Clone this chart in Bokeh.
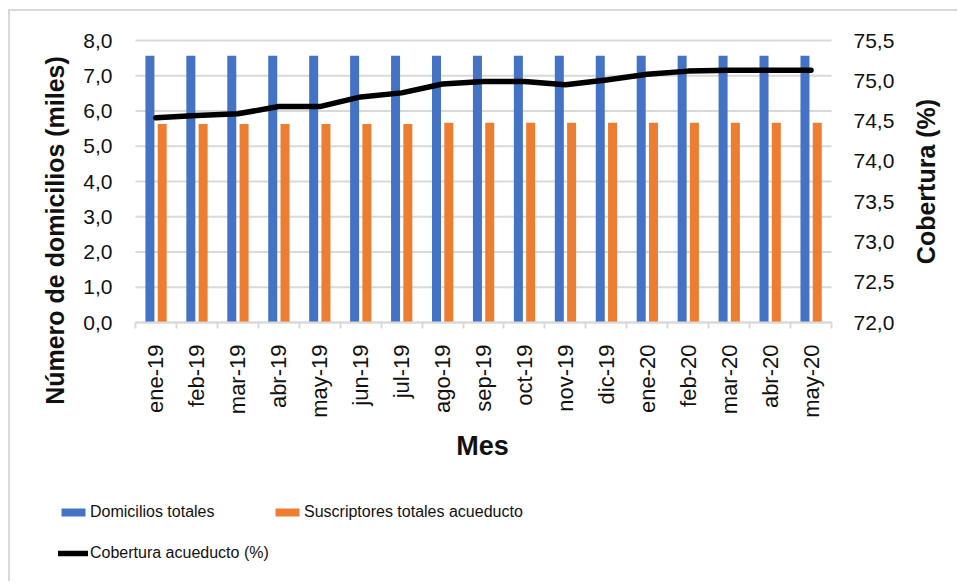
from math import pi
from bokeh.plotting import figure
from bokeh.models import (Range1d, LinearAxis, FixedTicker, CustomJSTickFormatter,
                          ColumnDataSource, Legend, LegendItem, Label)
from bokeh.transform import dodge
from bokeh.embed import file_html
from bokeh.resources import INLINE

# ---------------- data ----------------
months = ["ene-19", "feb-19", "mar-19", "abr-19", "may-19", "jun-19", "jul-19",
          "ago-19", "sep-19", "oct-19", "nov-19", "dic-19", "ene-20", "feb-20",
          "mar-20", "abr-20", "may-20"]
domicilios = [7.57, 7.57, 7.57, 7.57, 7.57, 7.57, 7.57, 7.57, 7.57, 7.57,
              7.57, 7.57, 7.57, 7.57, 7.57, 7.57, 7.57]
suscriptores = [5.63, 5.63, 5.63, 5.63, 5.63, 5.63, 5.63, 5.67, 5.67, 5.67,
                5.67, 5.67, 5.67, 5.67, 5.67, 5.67, 5.67]
cobertura = [74.54, 74.57, 74.59, 74.68, 74.68, 74.80, 74.85, 74.96, 74.99, 74.99,
             74.95, 75.01, 75.08, 75.12, 75.13, 75.13, 75.13]
left_ticks = [0.0, 1.0, 2.0, 3.0, 4.0, 5.0, 6.0, 7.0, 8.0]
right_ticks = [72.0, 72.5, 73.0, 73.5, 74.0, 74.5, 75.0, 75.5]

# ---------------- style / layout ----------------
BLUE = "#4472C4"
ORANGE = "#ED7D31"
GRID = "#d9d9d9"
TXT = "#111111"
FONT = "Liberation Sans"
LFONT = "Liberation Sans"

PAGE_W, PAGE_H = 959, 583
FRAME_L, FRAME_T = 10, 11            # page px where the canvas starts (margin + border)
PLOT_L, PLOT_R, PLOT_T, PLOT_B = 135, 831, 40, 322   # page px of the plotting area
FIG_W, FIG_H = PAGE_W - FRAME_L, PAGE_H - FRAME_T

n = len(months)
ppx = (PLOT_R - PLOT_L) / n
ppy = (PLOT_B - PLOT_T) / (left_ticks[-1] - left_ticks[0])
ppy2 = (PLOT_B - PLOT_T) / (right_ticks[-1] - right_ticks[0])

def px2x(px):
    return (px - PLOT_L) / ppx

def px2y(py):
    return left_ticks[0] + (PLOT_B - py) / ppy

x_center = [i + 0.5 for i in range(n)]
boundaries = list(range(n + 1))

src = ColumnDataSource(dict(x=x_center, month=months, dom=domicilios,
                            sus=suscriptores, cob=cobertura))
grid_src = ColumnDataSource(dict(y=left_ticks, x0=[0] * len(left_ticks),
                                 x1=[n] * len(left_ticks)))

p = figure(width=FIG_W, height=FIG_H, title=None,
           x_range=Range1d(px2x(FRAME_L), px2x(PAGE_W)),
           y_range=Range1d(px2y(PAGE_H), px2y(FRAME_T)),
           output_backend="svg", toolbar_location=None,
           min_border=0, min_border_left=0, min_border_right=0,
           min_border_top=0, min_border_bottom=0,
           styles={"margin-left": "8px", "margin-top": "9px",
                   "border-top": "2px solid #d9d9d9",
                   "border-left": "2px solid #d9d9d9"})
p.outline_line_color = None
p.background_fill_color = "white"
p.border_fill_color = "white"
p.extra_y_ranges = {"cov": Range1d(right_ticks[0] - (PAGE_H - PLOT_B) / ppy2,
                                   right_ticks[-1] + (PLOT_T - FRAME_T) / ppy2)}
p.xgrid.visible = False
p.ygrid.visible = False

# grid lines (only across the plotting area)
p.segment(x0="x0", x1="x1", y0="y", y1="y", source=grid_src,
          line_color=GRID, line_width=2)

# bars
r_dom = p.vbar(x=dodge("x", -0.148, range=p.x_range), top="dom", width=0.22,
               source=src, fill_color=BLUE, line_color=None)
r_sus = p.vbar(x=dodge("x", 0.152, range=p.x_range), top="sus", width=0.22,
               source=src, fill_color=ORANGE, line_color=None)
# line
r_cob = p.line("x", "cob", source=src, y_range_name="cov", line_width=5.5,
               line_color="black", line_join="round", line_cap="round")

# x axis
xa = p.xaxis[0]
xa.fixed_location = left_ticks[0]
xa.bounds = (0, n)
xa.ticker = FixedTicker(ticks=x_center, minor_ticks=boundaries)
xa.formatter = CustomJSTickFormatter(args=dict(labels=months),
                                     code="return labels[Math.floor(tick)];")
xa.axis_line_color = GRID
xa.axis_line_width = 2
xa.major_tick_line_color = None
xa.major_tick_out = 0
xa.major_tick_in = 0
xa.minor_tick_line_color = GRID
xa.minor_tick_line_width = 2
xa.minor_tick_out = 6
xa.minor_tick_in = 0
xa.major_label_orientation = pi / 2
xa.major_label_standoff = 16
xa.major_label_text_font = FONT
xa.major_label_text_font_size = "22px"
xa.major_label_text_color = TXT

# left y axis
ya = p.yaxis[0]
ya.fixed_location = 0
ya.ticker = FixedTicker(ticks=left_ticks)
ya.formatter = CustomJSTickFormatter(code="return tick.toFixed(1).replace('.', ',');")
ya.axis_line_color = None
ya.major_tick_line_color = None
ya.minor_tick_line_color = None
ya.major_tick_out = 0
ya.major_tick_in = 0
ya.major_label_standoff = 23
ya.major_label_text_font = FONT
ya.major_label_text_font_size = "21px"
ya.major_label_text_color = TXT

# right y axis
ra = LinearAxis(y_range_name="cov", ticker=FixedTicker(ticks=right_ticks),
                formatter=CustomJSTickFormatter(code="return tick.toFixed(1).replace('.', ',');"))
ra.fixed_location = n
ra.axis_line_color = None
ra.major_tick_line_color = None
ra.minor_tick_line_color = None
ra.major_tick_out = 0
ra.major_tick_in = 0
ra.major_label_standoff = 22
ra.major_label_text_font = FONT
ra.major_label_text_font_size = "21px"
ra.major_label_text_color = TXT
p.add_layout(ra, "right")

# axis titles
def title(text, px, py, angle, size):
    p.add_layout(Label(x=px2x(px), y=px2y(py), text=text, angle=angle,
                       text_align="center", text_baseline="middle",
                       text_font=FONT, text_font_style="bold",
                       text_font_size=size, text_color=TXT))

title("Número de domicilios (miles)", 54, 230, pi / 2, "25px")
title("Cobertura (%)", 925, 181, pi / 2, "25px")
title("Mes", 482, 445, 0, "27px")

# legends (location = bottom-left of legend box, px from canvas bottom-left)
def make_legend(item, page_x, page_cy):
    loc = (page_x - FRAME_L, PAGE_H - (page_cy + 10))
    lg = Legend(items=[item], location=loc, orientation="horizontal",
                border_line_color=None, background_fill_alpha=0,
                padding=0, margin=0, spacing=0,
                glyph_width=30, glyph_height=10, label_standoff=2,
                label_text_font=LFONT, label_text_font_size="16px",
                label_text_color=TXT, label_height=20)
    p.add_layout(lg, "center")

make_legend(LegendItem(label="Domicilios totales", renderers=[r_dom]), 58, 512)
make_legend(LegendItem(label="Suscriptores totales acueducto", renderers=[r_sus]), 272, 512)
make_legend(LegendItem(label="Cobertura acueducto (%)", renderers=[r_cob]), 58, 553)

open("out.html", "w").write(file_html(p, INLINE))
